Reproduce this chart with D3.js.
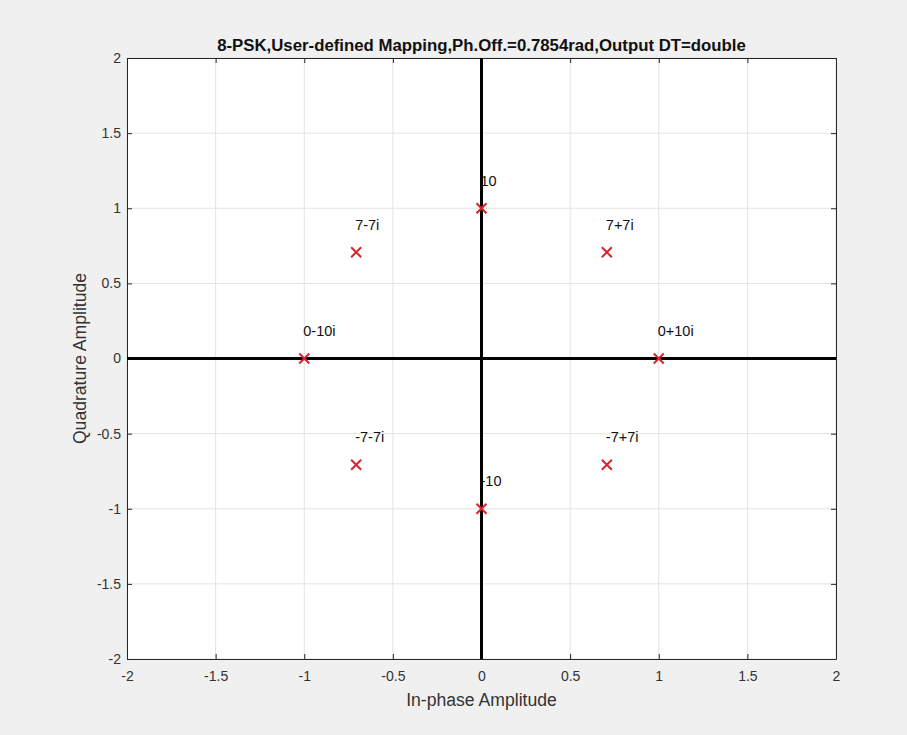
<!DOCTYPE html>
<html>
<head>
<meta charset="UTF-8" />
<script src="https://d3js.org/d3.v7.min.js"></script>
<style>
  body { margin: 0; background: #f0f0f0; font-family: Arial, "Liberation Sans", sans-serif; }
  svg { display: block; }
  .tick text { font-size: 14px; fill: #333; font-family: Arial, "Liberation Sans", sans-serif; }
</style>
</head>
<body>
<svg width="907" height="735"></svg>
<script>
  // constellation points (in-phase, quadrature) and their labels
  const inPhase    = [1, 0.7071, 0, -0.7071, -1, -0.7071, 0, 0.7071];
  const quadrature = [0, 0.7071, 1, 0.7071, 0, -0.7071, -1, -0.7071];
  const labels     = ["0+10i", "7+7i", "10", "7-7i", "0-10i", "-7-7i", "-10", "-7+7i"];
  const ticks      = [-2, -1.5, -1, -0.5, 0, 0.5, 1, 1.5, 2];

  const svg = d3.select("svg");
  const margin = {top: 58, right: 71, bottom: 76, left: 127};
  const width = 907 - margin.left - margin.right,
        height = 735 - margin.top - margin.bottom;

  const g = svg.append("g").attr("transform", `translate(${margin.left},${margin.top})`);

  const x = d3.scaleLinear().domain([-2, 2]).range([0, width]);
  const y = d3.scaleLinear().domain([-2, 2]).range([height, 0]);

  g.append("rect").attr("width", width).attr("height", height).attr("fill", "#fff");

  // grid
  g.selectAll(".gx").data(ticks).enter().append("line")
    .attr("x1", d => x(d)).attr("x2", d => x(d))
    .attr("y1", 0).attr("y2", height)
    .attr("stroke", "#e3e3e3").attr("stroke-width", 1);
  g.selectAll(".gy").data(ticks).enter().append("line")
    .attr("y1", d => y(d)).attr("y2", d => y(d))
    .attr("x1", 0).attr("x2", width)
    .attr("stroke", "#e3e3e3").attr("stroke-width", 1);

  // axes (ticks inward, box on all four sides)
  const fmt = d => String(d);
  const xAxis = g.append("g").attr("transform", `translate(0,${height})`)
    .call(d3.axisBottom(x).tickValues(ticks).tickSizeInner(-5).tickSizeOuter(0).tickPadding(12).tickFormat(fmt));
  const yAxis = g.append("g")
    .call(d3.axisLeft(y).tickValues(ticks).tickSizeInner(-5).tickSizeOuter(0).tickPadding(6).tickFormat(fmt));
  const xTop = g.append("g")
    .call(d3.axisTop(x).tickValues(ticks).tickSizeInner(-5).tickSizeOuter(0).tickFormat(""));
  const yRight = g.append("g").attr("transform", `translate(${width},0)`)
    .call(d3.axisRight(y).tickValues(ticks).tickSizeInner(-5).tickSizeOuter(0).tickFormat(""));
  [xAxis, yAxis, xTop, yRight].forEach(a => {
    a.selectAll("path, line").attr("stroke", "#262626");
  });

  // zero lines
  g.append("line").attr("x1", 0).attr("x2", width).attr("y1", y(0)).attr("y2", y(0))
    .attr("stroke", "#000").attr("stroke-width", 3);
  g.append("line").attr("x1", x(0)).attr("x2", x(0)).attr("y1", 0).attr("y2", height)
    .attr("stroke", "#000").attr("stroke-width", 3);

  // markers
  const pts = inPhase.map((v, i) => ({i: v, q: quadrature[i], label: labels[i]}));
  const s = 5;
  const m = g.selectAll(".pt").data(pts).enter().append("g")
    .attr("transform", d => `translate(${x(d.i)},${y(d.q)})`);
  m.append("path")
    .attr("d", `M${-s},${-s}L${s},${s}M${-s},${s}L${s},${-s}`)
    .attr("stroke", "#d9232b").attr("stroke-width", 2).attr("fill", "none");

  g.selectAll(".lbl").data(pts).enter().append("text")
    .attr("x", d => x(d.i) - 1)
    .attr("y", d => y(d.q + 0.15))
    .attr("font-size", 14.5).attr("fill", "#111")
    .text(d => d.label);

  // title and axis labels
  svg.append("text")
    .attr("x", margin.left + width / 2).attr("y", 51)
    .attr("text-anchor", "middle").attr("font-size", 16.8).attr("font-weight", "bold").attr("fill", "#111")
    .text("8-PSK,User-defined Mapping,Ph.Off.=0.7854rad,Output DT=double");

  svg.append("text")
    .attr("x", margin.left + width / 2).attr("y", 706)
    .attr("text-anchor", "middle").attr("font-size", 17.6).attr("fill", "#333")
    .text("In-phase Amplitude");

  svg.append("text")
    .attr("transform", `translate(86,${margin.top + height / 2}) rotate(-90)`)
    .attr("text-anchor", "middle").attr("font-size", 17.6).attr("fill", "#333")
    .text("Quadrature Amplitude");
</script>
</body>
</html>
